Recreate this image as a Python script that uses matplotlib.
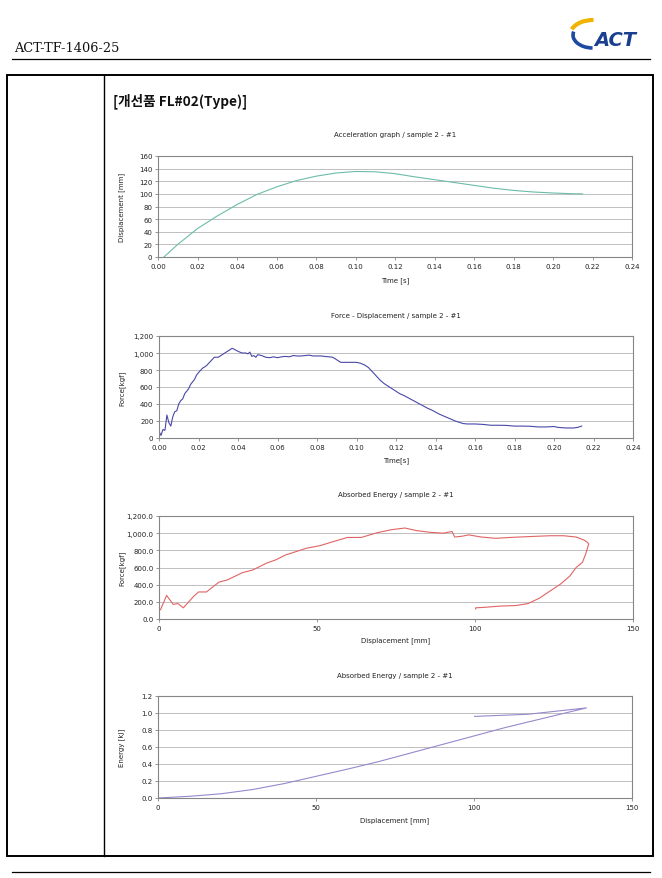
import matplotlib
matplotlib.use("Agg")
import matplotlib.pyplot as plt
from matplotlib.ticker import FuncFormatter, MultipleLocator
from matplotlib.patches import Arc, Rectangle
from matplotlib.lines import Line2D

W, H = 662, 879

# ---------------- data ----------------
# Chart 1: Displacement vs time
t1 = [0.003, 0.010, 0.020, 0.030, 0.040, 0.050, 0.060, 0.070, 0.080, 0.090,
      0.100, 0.110, 0.120, 0.130, 0.140, 0.150, 0.160, 0.170, 0.180, 0.190,
      0.200, 0.210, 0.215]
disp1 = [0, 20, 45, 65, 83, 99, 111, 121, 128, 133,
         135.5, 135, 132, 127, 122.5, 118, 113.5, 109, 105.5, 103,
         101.4, 100.2, 100]

# Chart 2: Force vs time
t2 = [0.000, 0.001, 0.002, 0.003, 0.004, 0.005, 0.006, 0.0065, 0.007, 0.008,
      0.009, 0.010, 0.011, 0.012, 0.013, 0.014, 0.015, 0.016, 0.017, 0.018,
      0.019, 0.020, 0.022, 0.024, 0.026, 0.028, 0.030, 0.032, 0.034, 0.036,
      0.037, 0.038, 0.040, 0.042, 0.044, 0.045, 0.046, 0.047, 0.048, 0.049,
      0.050, 0.052, 0.054, 0.056, 0.058, 0.060, 0.062, 0.064, 0.066, 0.068,
      0.070, 0.072, 0.074, 0.076, 0.078, 0.080, 0.082, 0.084, 0.086, 0.088,
      0.090, 0.092, 0.094, 0.096, 0.098, 0.100, 0.102, 0.104, 0.106, 0.108,
      0.110, 0.112, 0.114, 0.116, 0.118, 0.120, 0.122, 0.124, 0.126, 0.128,
      0.130, 0.132, 0.134, 0.136, 0.138, 0.140, 0.142, 0.144, 0.146, 0.148,
      0.150, 0.152, 0.154, 0.156, 0.160, 0.164, 0.168, 0.172, 0.176, 0.180,
      0.184, 0.188, 0.192, 0.196, 0.200, 0.202, 0.206, 0.210, 0.212, 0.214]
force2 = [80, 30, 100, 90, 270, 180, 140, 200, 250, 310,
          320, 400, 440, 460, 520, 550, 580, 630, 660, 690,
          740, 770, 820, 850, 900, 950, 950, 980, 1010, 1040,
          1055, 1045, 1020, 1000, 1000, 990, 1010, 960, 970, 950,
          980, 970, 950, 945, 955, 945, 955, 960, 955, 970,
          965, 965, 970, 975, 965, 965, 965, 960, 955, 950,
          920, 890, 890, 890, 890, 890, 880, 860, 830, 780,
          730, 680, 640, 610, 580, 550, 520, 500, 475, 450,
          425, 400, 375, 350, 330, 305, 280, 260, 240, 220,
          200, 185, 170, 165, 165, 160, 150, 150, 148, 140,
          140, 138, 130, 130, 135, 125, 118, 118, 125, 140]

# Chart 3: Force vs displacement
disp3 = [0, 0.5, 2.4, 4.5, 6.0, 7.7, 11.0, 12.5, 15.0, 19.0,
         21.6, 26.4, 29.6, 34.0, 37.0, 40.0, 46.7, 51.0, 55.0, 59.6,
         64.0, 69.0, 73.5, 77.8, 81.5, 85.8, 90.0, 92.7, 93.6, 96.0,
         98.0, 102.0, 106.6, 111.0, 117.0, 123.7, 128.0, 132.0, 134.5, 135.5,
         136.0, 135.0, 134.0, 132.0, 130.0, 127.0, 123.7, 120.5, 116.8, 113.0,
         107.7, 103.4, 100.2, 100.2]
force3 = [100, 110, 275, 170, 180, 130, 265, 315, 315, 430,
          455, 540, 570, 650, 690, 745, 825, 855, 900, 950,
          950, 1005, 1040, 1060, 1030, 1010, 1000, 1020, 955, 965,
          980, 955, 940, 950, 960, 970, 970, 955, 920, 895,
          875, 755, 660, 600, 500, 405, 325, 245, 180, 157,
          150, 137, 130, 118]

# Chart 4: Energy vs displacement
disp4 = [0, 10, 20, 30, 40, 50, 60, 70, 80, 90,
         100, 110, 120, 130, 135.6, 117, 100.2]
energy4 = [0.0, 0.02, 0.05, 0.10, 0.17, 0.255, 0.34, 0.43, 0.53, 0.63,
           0.73, 0.83, 0.92, 1.01, 1.06, 0.985, 0.96]

time_ticks = [0.00, 0.02, 0.04, 0.06, 0.08, 0.10, 0.12, 0.14, 0.16, 0.18, 0.20, 0.22, 0.24]
disp_ticks = [0, 50, 100, 150]

titles = ["Acceleration graph / sample 2 - #1",
          "Force - Displacement / sample 2 - #1",
          "Absorbed Energy / sample 2 - #1",
          "Absorbed Energy / sample 2 - #1"]
xlabels = ["Time [s]", "Time[s]", "Displacement [mm]", "Displacement [mm]"]
ylabels = ["Displacement [mm]", "Force[kgf]", "Force[kgf]", "Energy [kJ]"]

# ---------------- figure ----------------
plt.rcParams['font.family'] = ['DejaVu Sans']
fig = plt.figure(figsize=(W / 100, H / 100), dpi=100)
fig.patch.set_facecolor('white')

# page overlay (pixel coordinates)
page = fig.add_axes([0, 0, 1, 1], zorder=0)
page.set_xlim(0, W)
page.set_ylim(H, 0)
page.axis('off')

page.text(14, 48, "ACT-TF-1406-25", fontsize=9.3, family='DejaVu Serif',
          va='center', ha='left', color='#111111')
page.add_line(Line2D([12, 650], [60, 60], color='black', lw=0.9))
page.add_patch(Rectangle((7, 76), 646, 781, fill=False, ec='black', lw=1.4))
page.add_line(Line2D([104, 104], [76, 857], color='black', lw=1.0))
page.add_line(Line2D([12, 650], [873, 873], color='black', lw=0.9))
page.text(113, 101, "[개선품 FL#02(Type)]", fontsize=9.8,
          family=['Noto Sans CJK KR', 'DejaVu Sans'], fontweight='bold',
          va='center', ha='left', color='#111111')

# logo (y axis inverted: visual angle = -theta)
page.add_patch(Arc((593, 36), 46, 30, theta1=195, theta2=272, color='#f0b400', lw=3.0))
page.add_patch(Arc((593, 36), 40, 26, theta1=92, theta2=190, color='#1b4aa0', lw=2.6))
page.text(615, 40, "ACT", fontsize=14, fontweight='bold', style='italic',
          color='#1b3f8f', ha='center', va='center')

# chart areas in pixels: (left, top, right, bottom)
boxes = [(158, 157, 632, 258),
         (159, 337, 633, 439),
         (159, 517, 633, 620),
         (158, 697, 632, 799)]
title_y = [135, 316, 495, 676]
xlabel_y = [281, 461, 641, 821]
ylabel_x = 122


def px_rect(l, t, r, b):
    return [l / W, 1 - b / H, (r - l) / W, (b - t) / H]


axes = []
for i, (l, t, r, b) in enumerate(boxes):
    ax = fig.add_axes(px_rect(l, t, r, b), zorder=1)
    h = b - t
    w = r - l
    ax.set_facecolor('white')
    for s in ax.spines.values():
        s.set_color('#868686')
        s.set_linewidth(0.8)
    ax.grid(axis='y', color='#b4b4b4', lw=0.6)
    ax.grid(axis='x', visible=False)
    ax.set_axisbelow(True)
    ax.tick_params(labelsize=5, colors='#868686', labelcolor='#222222',
                   length=2, width=0.6, pad=2)
    ax.set_title(titles[i], fontsize=5, color='#222222', pad=0,
                 y=1 + (t - title_y[i]) / h, va='center')
    ax.set_xlabel(xlabels[i], fontsize=5, color='#222222')
    ax.xaxis.set_label_coords(0.5, -(xlabel_y[i] - b) / h)
    ax.xaxis.label.set_va('center')
    ax.set_ylabel(ylabels[i], fontsize=5, color='#222222')
    ax.yaxis.set_label_coords((ylabel_x - l) / w, 0.5)
    ax.yaxis.label.set_va('center')
    axes.append(ax)

ax1, ax2, ax3, ax4 = axes

ax1.plot(t1, disp1, color='#6cbcaa', lw=0.8)
ax1.set_xlim(0, 0.24)
ax1.set_ylim(0, 160)
ax1.set_xticks(time_ticks)
ax1.xaxis.set_major_formatter(FuncFormatter(lambda v, p: f"{v:.2f}"))
ax1.yaxis.set_major_locator(MultipleLocator(20))

ax2.plot(t2, force2, color='#4848a8', lw=0.8)
ax2.set_xlim(0, 0.24)
ax2.set_ylim(0, 1200)
ax2.set_xticks(time_ticks)
ax2.xaxis.set_major_formatter(FuncFormatter(lambda v, p: f"{v:.2f}"))
ax2.yaxis.set_major_locator(MultipleLocator(200))
ax2.yaxis.set_major_formatter(FuncFormatter(lambda v, p: f"{v:,.0f}"))

ax3.plot(disp3, force3, color='#e06464', lw=0.8)
ax3.set_xlim(0, 150)
ax3.set_ylim(0, 1200)
ax3.set_xticks(disp_ticks)
ax3.yaxis.set_major_locator(MultipleLocator(200))
ax3.yaxis.set_major_formatter(FuncFormatter(lambda v, p: f"{v:,.1f}"))

ax4.plot(disp4, energy4, color='#9888cc', lw=0.8)
ax4.set_xlim(0, 150)
ax4.set_ylim(0, 1.2)
ax4.set_xticks(disp_ticks)
ax4.yaxis.set_major_locator(MultipleLocator(0.2))
ax4.yaxis.set_major_formatter(FuncFormatter(lambda v, p: f"{v:.1f}"))

fig.savefig("out.png", dpi=100, facecolor='white')
